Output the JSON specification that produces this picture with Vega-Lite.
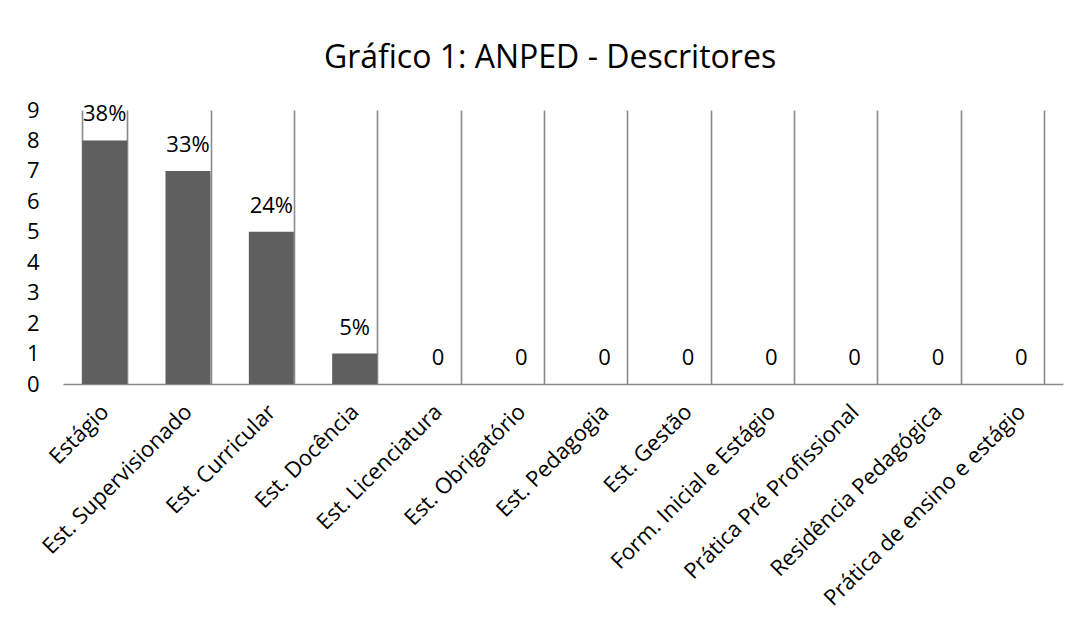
{
  "$schema": "https://vega.github.io/schema/vega-lite/v6.json",
  "width": 1000,
  "height": 274,
  "autosize": {"type": "none"},
  "padding": {"left": 63, "top": 110, "right": 17, "bottom": 256},
  "background": "white",
  "title": {
    "text": "Gráfico 1: ANPED - Descritores",
    "font": "Open Sans",
    "fontSize": 32,
    "fontWeight": "normal",
    "color": "#000000",
    "anchor": "middle",
    "frame": "group",
    "dx": -13,
    "offset": 24
  },
  "config": {
    "view": {"stroke": null},
    "font": "Open Sans"
  },
  "data": {
    "values": [
      {"descritor": "Estágio", "n": 8, "rotulo": "38%"},
      {"descritor": "Est. Supervisionado", "n": 7, "rotulo": "33%"},
      {"descritor": "Est. Curricular", "n": 5, "rotulo": "24%"},
      {"descritor": "Est. Docência", "n": 1, "rotulo": "5%"},
      {"descritor": "Est. Licenciatura", "n": 0, "rotulo": "0"},
      {"descritor": "Est. Obrigatório", "n": 0, "rotulo": "0"},
      {"descritor": "Est. Pedagogia", "n": 0, "rotulo": "0"},
      {"descritor": "Est. Gestão", "n": 0, "rotulo": "0"},
      {"descritor": "Form. Inicial e Estágio", "n": 0, "rotulo": "0"},
      {"descritor": "Prática Pré Profissional", "n": 0, "rotulo": "0"},
      {"descritor": "Residência Pedagógica", "n": 0, "rotulo": "0"},
      {"descritor": "Prática de ensino e estágio", "n": 0, "rotulo": "0"}
    ]
  },
  "encoding": {
    "x": {
      "field": "descritor",
      "type": "nominal",
      "sort": null,
      "scale": {"paddingInner": 0.46, "paddingOuter": 0.23},
      "axis": {
        "title": null,
        "grid": true,
        "gridColor": "#8a8a8a",
        "gridWidth": 1.6,
        "gridOpacity": 1,
        "tickBand": "extent",
        "ticks": false,
        "domain": true,
        "domainColor": "#8a8a8a",
        "domainWidth": 1.6,
        "labelAngle": -45,
        "labelAlign": "right",
        "labelBaseline": "middle",
        "labelPadding": 24,
        "labelFontSize": 22,
        "labelLimit": 500,
        "labelOverlap": false,
        "labelColor": "#000000",
        "labelFont": "Open Sans"
      }
    },
    "y": {
      "field": "n",
      "type": "quantitative",
      "scale": {"domain": [0, 9], "nice": false},
      "axis": {
        "title": null,
        "grid": false,
        "domain": false,
        "ticks": false,
        "values": [0, 1, 2, 3, 4, 5, 6, 7, 8, 9],
        "labelPadding": 24,
        "labelFontSize": 22,
        "labelColor": "#000000",
        "labelFont": "Open Sans"
      }
    }
  },
  "layer": [
    {
      "mark": {"type": "bar", "color": "#5f5f5f"}
    },
    {
      "mark": {
        "type": "text",
        "baseline": "alphabetic",
        "dy": -19,
        "fontSize": 22,
        "color": "#000000",
        "font": "Open Sans"
      },
      "encoding": {"text": {"field": "rotulo"}}
    }
  ]
}
